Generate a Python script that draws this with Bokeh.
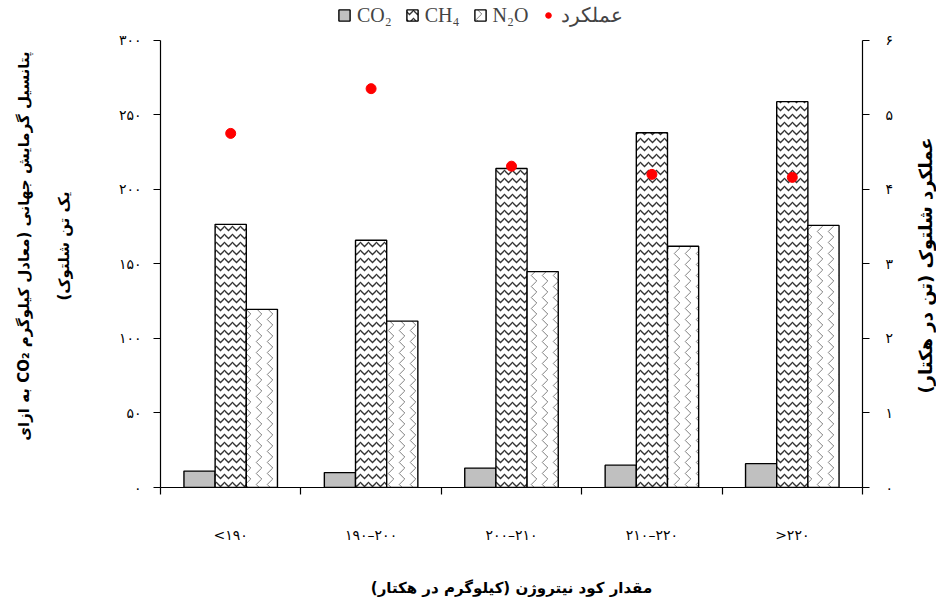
import math
from bokeh.plotting import figure
from bokeh.layouts import row
from bokeh.models import (FactorRange, Range1d, LinearAxis, CategoricalAxis, FixedTicker,
                          Legend, LegendItem, ColumnDataSource, Label)
from bokeh.transform import dodge
from bokeh.embed import file_html
from bokeh.resources import INLINE

# ---------------- data ----------------
categories = ["<۱۹۰", "۱۹۰–۲۰۰", "۲۰۰–۲۱۰", "۲۱۰–۲۲۰", ">۲۲۰"]
co2 = [11, 10, 13, 15, 16]
ch4 = [176.5, 165.8, 214.0, 237.9, 258.8]
n2o = [119.5, 111.6, 144.8, 161.8, 175.8]
yield_t = [4.75, 5.35, 4.31, 4.20, 4.16]

left_ticks = [0, 50, 100, 150, 200, 250, 300]
left_tick_labels = ["۰", "۵۰", "۱۰۰", "۱۵۰", "۲۰۰", "۲۵۰", "۳۰۰"]
right_ticks = [0, 1, 2, 3, 4, 5, 6]
right_tick_labels = ["۰", "۱", "۲", "۳", "۴", "۵", "۶"]

series_names = ["CO₂", "CH₄", "N₂O"]
yield_name = "عملکرد"

RLE, PDF = "\u202B", "\u202C"
x_title = RLE + "مقدار کود نیتروژن (کیلوگرم در هکتار)" + PDF
y_title_1 = RLE + "پتانسیل گرمایش جهانی (معادل کیلوگرم CO₂ به ازای" + PDF
y_title_2 = RLE + "یک تن شلتوک)" + PDF
y2_title = RLE + "عملکرد شلتوک (تن در هکتار)" + PDF

FA_FONT = "DejaVu Sans"

# ---------------- layout geometry (pixels) ----------------
W, H = 936, 599
TITLE_W = 26                      # strip on the right holding the right-hand title
W_MAIN = W - TITLE_W
FRAME_LEFT, FRAME_RIGHT = 160, 862
FRAME_TOP, FRAME_BOTTOM = 4, 491  # frame extends above the axes to hold the legend
AXIS_TOP = 40                     # where the value axes end (300 / 6)
extend = (FRAME_BOTTOM - FRAME_TOP) / (FRAME_BOTTOM - AXIS_TOP)

y_max = left_ticks[-1]
y2_max = right_ticks[-1]

# ---------------- main figure ----------------
p = figure(width=W_MAIN, height=H,
           x_range=FactorRange(factors=categories, range_padding=0, factor_padding=0),
           y_range=Range1d(0, y_max * extend),
           output_backend="svg", toolbar_location=None,
           x_axis_location=None, y_axis_location=None,
           min_border_left=FRAME_LEFT, min_border_right=W_MAIN - FRAME_RIGHT,
           min_border_top=FRAME_TOP, min_border_bottom=H - FRAME_BOTTOM)
p.extra_y_ranges = {"yield": Range1d(0, y2_max * extend)}
p.xgrid.visible = False
p.ygrid.visible = False
p.outline_line_color = None
p.background_fill_color = "white"

source = ColumnDataSource(dict(cat=categories, co2=co2, ch4=ch4, n2o=n2o, yld=yield_t))

bw = 0.222
r_co2 = p.vbar(x=dodge("cat", -bw, range=p.x_range), top="co2", width=bw, source=source,
               fill_color="#c0c0c0", line_color="black", line_width=1.4)
r_ch4 = p.vbar(x=dodge("cat", 0, range=p.x_range), top="ch4", width=bw, source=source,
               fill_color="white", line_color="black", line_width=1.4,
               hatch_pattern="horizontal_wave", hatch_color="#333333",
               hatch_scale=8, hatch_weight=1.3)
r_n2o = p.vbar(x=dodge("cat", bw, range=p.x_range), top="n2o", width=bw, source=source,
               fill_color="white", line_color="black", line_width=1.4,
               hatch_pattern="vertical_wave", hatch_color="#555555",
               hatch_scale=11, hatch_weight=1.0, hatch_alpha=0.75)
r_y = p.scatter(x="cat", y="yld", y_range_name="yield", size=10, marker="circle",
                fill_color="red", line_color="red", source=source)

# ---------------- axes ----------------
def style_axis(ax):
    ax.axis_line_color = "black"
    ax.axis_line_width = 1.2
    ax.major_tick_line_color = "black"
    ax.major_tick_line_width = 1.2
    ax.minor_tick_line_color = None
    ax.major_tick_in = 0
    ax.major_tick_out = 7
    ax.major_label_text_font = FA_FONT
    ax.major_label_text_font_size = "14px"
    ax.major_label_text_color = "black"

def style_title(ax):
    ax.axis_label_text_font = FA_FONT
    ax.axis_label_text_font_style = "bold"
    ax.axis_label_text_font_size = "15px"
    ax.axis_label_text_color = "black"

ax_left = LinearAxis(ticker=FixedTicker(ticks=left_ticks), bounds=(0, y_max),
                     major_label_overrides=dict(zip(left_ticks, left_tick_labels)),
                     axis_label=y_title_1 + "\n" + y_title_2)
style_axis(ax_left)
style_title(ax_left)
ax_left.major_label_standoff = 12
ax_left.axis_label_standoff = 43
ax_left.axis_label_text_line_height = 2.2
p.add_layout(ax_left, "left")

ax_right = LinearAxis(y_range_name="yield", ticker=FixedTicker(ticks=right_ticks),
                      bounds=(0, y2_max),
                      major_label_overrides=dict(zip(right_ticks, right_tick_labels)))
style_axis(ax_right)
ax_right.major_label_standoff = 16
p.add_layout(ax_right, "right")

bounds = list(range(len(categories) + 1))
ax_bound = LinearAxis(ticker=FixedTicker(ticks=bounds),
                      major_label_overrides={b: "" for b in bounds})
style_axis(ax_bound)
ax_bound.major_label_text_font_size = "0px"
ax_bound.major_label_standoff = 0
p.add_layout(ax_bound, "below")

ax_cat = CategoricalAxis(axis_label=x_title)
ax_cat.axis_line_color = None
ax_cat.major_tick_line_color = None
ax_cat.minor_tick_line_color = None
ax_cat.major_tick_in = 0
ax_cat.major_tick_out = 0
ax_cat.major_label_standoff = 32
ax_cat.major_label_text_font = FA_FONT
ax_cat.major_label_text_font_size = "14px"
ax_cat.major_label_text_color = "black"
ax_cat.axis_label_standoff = 33
style_title(ax_cat)
p.add_layout(ax_cat, "below")

# ---------------- legend (inside the extended frame, above the axes' end) ----------------
legend = Legend(items=[LegendItem(label=series_names[0], renderers=[r_co2]),
                       LegendItem(label=series_names[1], renderers=[r_ch4]),
                       LegendItem(label=series_names[2], renderers=[r_n2o]),
                       LegendItem(label=yield_name, renderers=[r_y])],
                orientation="horizontal", location=(177, FRAME_BOTTOM - 31),
                background_fill_alpha=0, border_line_alpha=0,
                label_text_font="Liberation Serif", label_text_font_size="20px",
                glyph_width=14, glyph_height=14, label_standoff=6, spacing=13,
                padding=0, margin=0)
p.add_layout(legend, "center")

# ---------------- right-hand title strip ----------------
# the rotated label is anchored at its start (lower end); put that end near y=377 px
pt = figure(width=TITLE_W, height=H, x_range=Range1d(0, 1), y_range=Range1d(0, 1),
            output_backend="svg", toolbar_location=None,
            x_axis_location=None, y_axis_location=None, min_border=0)
pt.xgrid.visible = False
pt.ygrid.visible = False
pt.outline_line_color = None
pt.add_layout(Label(x=15, y=H - 377, x_units="screen", y_units="screen", text=y2_title,
                    angle=math.pi / 2, text_align="center", text_baseline="middle",
                    text_font=FA_FONT, text_font_style="bold", text_font_size="18px",
                    text_color="black"))

layout = row(p, pt, spacing=0)
open("out.html", "w").write(file_html(layout, INLINE))
